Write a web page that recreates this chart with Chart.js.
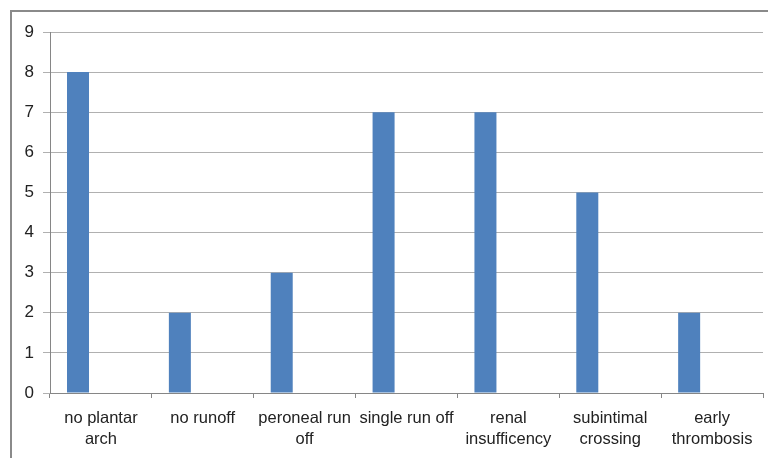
<!DOCTYPE html>
<html>
<head>
<meta charset="utf-8">
<script src="https://cdn.jsdelivr.net/npm/chart.js@4/dist/chart.umd.min.js"></script>
<style>
  html, body { margin: 0; padding: 0; background: #fff; overflow: hidden; }
  #wrap { position: relative; width: 768px; height: 458px; }
  #frame { position: absolute; left: 10px; top: 10px; width: 800px; height: 500px;
           border: 2px solid #8a8a8a; box-sizing: border-box; }
  canvas { position: absolute; left: 0; top: 0; }
</style>
</head>
<body>
<div id="wrap">
  <div id="frame"></div>
  <canvas id="c" width="768" height="458"></canvas>
</div>
<script>
// Complication categories and their case counts
const categories = [
  ["no plantar", "arch"],
  "no runoff",
  ["peroneal run", "off"],
  "single run off",
  ["renal", "insufficency"],
  ["subintimal", "crossing"],
  ["early", "thrombosis"]
];
const counts = [8, 2, 3, 7, 7, 5, 2];
// Second (unused) series slot in the workbook, left blank
const blankSeries = [null, null, null, null, null, null, null];
const yTicks = [0, 1, 2, 3, 4, 5, 6, 7, 8, 9];

const PLOT_LEFT = 50, PLOT_RIGHT = 763, PLOT_TOP = 32, PLOT_BOTTOM = 393;

new Chart(document.getElementById('c'), {
  type: 'bar',
  data: {
    labels: categories,
    datasets: [
      { data: counts, backgroundColor: '#4F81BD', borderWidth: 0,
        categoryPercentage: 0.9, barPercentage: 0.48 },
      { data: blankSeries, backgroundColor: '#C0504D', borderWidth: 0,
        categoryPercentage: 0.9, barPercentage: 0.48 }
    ]
  },
  options: {
    responsive: false,
    animation: false,
    devicePixelRatio: 1,
    layout: { padding: { left: 0, right: 768 - PLOT_RIGHT, top: PLOT_TOP, bottom: 0 } },
    plugins: { legend: { display: false }, tooltip: { enabled: false } },
    scales: {
      x: {
        grid: { display: true, drawOnChartArea: false, drawTicks: true, tickLength: 5,
                color: '#868686', offset: true },
        border: { display: true, color: '#868686', width: 1 },
        ticks: { autoSkip: false, maxRotation: 0, minRotation: 0, padding: 9,
                 color: '#222',
                 font: { family: 'Liberation Sans, Arial, sans-serif', size: 16.5, lineHeight: 1.33 } },
        afterFit(scale) { scale.height = 458 - PLOT_BOTTOM; }
      },
      y: {
        min: 0, max: 9,
        afterBuildTicks(scale) { scale.ticks = yTicks.map(v => ({ value: v })); },
        grid: { color: '#B0B0B0', lineWidth: 1, tickLength: 7, drawTicks: true },
        border: { display: true, color: '#868686', width: 1 },
        ticks: { padding: 9, color: '#222',
                 font: { family: 'Liberation Sans, Arial, sans-serif', size: 17 } },
        afterFit(scale) { scale.width = PLOT_LEFT; }
      }
    }
  }
});
</script>
</body>
</html>
